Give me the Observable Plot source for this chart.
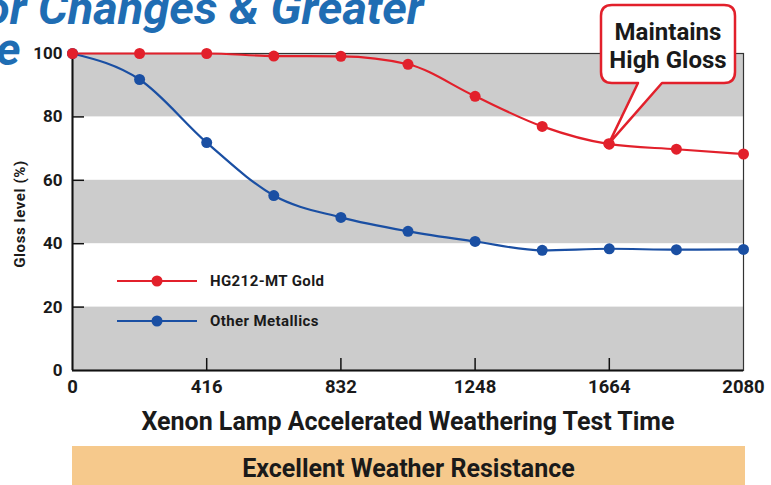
<!DOCTYPE html>
<html><head><meta charset="utf-8">
<script src="https://cdn.jsdelivr.net/npm/d3@7"></script>
<script src="https://cdn.jsdelivr.net/npm/@observablehq/plot@0.6"></script>
<style>
body{margin:0;background:#fff;}
#wrap{position:relative;width:771px;height:485px;overflow:hidden;font-family:Roboto,"DejaVu Sans Condensed",sans-serif;font-weight:bold;color:#1a1a1a;}
#chart{position:absolute;left:0;top:0;}
.title{position:absolute;color:#1f6db3;font-style:italic;font-weight:bold;font-size:47px;white-space:nowrap;line-height:0.7;z-index:2;}
#xlabel{position:absolute;left:0;width:816px;top:407px;text-align:center;font-size:25px;line-height:30px;}
#band{position:absolute;left:72px;top:446px;width:673px;height:45px;background:#f6c98c;}
#band div{position:absolute;left:0;right:0;top:8px;text-align:center;font-size:25px;line-height:30px;}
#ylabel{position:absolute;left:20px;top:214px;transform:translate(-50%,-50%) rotate(-90deg);font-size:15px;letter-spacing:0.6px;white-space:nowrap;}
.leg{position:absolute;left:116px;height:20px;display:flex;align-items:center;font-size:15px;letter-spacing:0.4px;}
.leg svg{margin-right:12px;}
</style></head><body><div id="wrap">
<div id="chart"></div>
<div class="title" id="t1" style="left:-16px;top:-8px;">or Changes &amp; Greater</div>
<div class="title" id="t2" style="left:-4px;top:33px;">e</div>
<div id="ylabel">Gloss level (%)</div>
<div id="legend"></div>
<div id="xlabel"></div>
<div id="band"><div id="bandText"></div></div>
</div>
<script>
const hours = [0, 208, 416, 624, 832, 1040, 1248, 1456, 1664, 1872, 2080];
const hgGold = [100, 100, 100, 99.2, 99.1, 96.6, 86.5, 77.0, 71.4, 69.8, 68.3];
const otherMetallics = [100, 91.8, 71.9, 55.2, 48.3, 43.9, 40.7, 37.9, 38.4, 38.1, 38.2];
const seriesNames = ["HG212-MT Gold", "Other Metallics"];
const seriesColors = ["#e2202b", "#1a4fa3"];
const xTicks = [0, 416, 832, 1248, 1664, 2080];
const yTicks = [0, 20, 40, 60, 80, 100];
const bands = [[0, 20], [40, 60], [80, 100]];
const xTitle = "Xenon Lamp Accelerated Weathering Test Time";
const bandTitle = "Excellent Weather Resistance";
const calloutLines = ["Maintains", "High Gloss"];
const calloutIndex = 8;

const rows = [];
hours.forEach((h, i) => rows.push({h, v: otherMetallics[i], s: seriesNames[1]}));
hours.forEach((h, i) => rows.push({h, v: hgGold[i], s: seriesNames[0]}));

const font = 'Roboto,"DejaVu Sans Condensed",sans-serif';
const innerX = xTicks.filter(t => t > 0 && t < 2080);
const innerY = yTicks.filter(t => t > 0 && t < 100);

const plot = Plot.plot({
  width: 771, height: 440,
  marginLeft: 72, marginRight: 28, marginTop: 53, marginBottom: 70,
  style: {fontFamily: font, fontWeight: "bold", background: "transparent", color: "#1a1a1a"},
  x: {domain: [0, 2080]},
  y: {domain: [0, 100]},
  color: {domain: seriesNames, range: seriesColors},
  marks: [
    Plot.rectY(bands, {y1: d => d[0], y2: d => d[1], fill: "#cccccc"}),
    Plot.frame({stroke: "#333", strokeWidth: 1.2}),
    Plot.ruleY(innerY, {x1: 0, x2: 2080 * 12 / 671, stroke: "#111", strokeWidth: 1.5}),
    Plot.ruleX(innerX, {y1: 0, y2: 100 * 12 / 317, stroke: "#111", strokeWidth: 1.5}),
    Plot.ruleX([0], {stroke: "#111", strokeWidth: 2}),
    Plot.ruleY([0], {stroke: "#111", strokeWidth: 2}),
    Plot.axisX(xTicks, {tickSize: 0, tickPadding: 9, fontSize: 18.5, tickFormat: d3.format("d"), label: null}),
    Plot.axisY(yTicks, {tickSize: 0, tickPadding: 10, fontSize: 17, tickFormat: d3.format("d"), label: null}),
    Plot.line(rows, {x: "h", y: "v", stroke: "s", z: "s", curve: "monotone-x", strokeWidth: 2.2}),
    Plot.dot(rows, {x: "h", y: "v", fill: "s", r: 5.5})
  ]
});
document.getElementById("chart").appendChild(plot);

// callout anchored to the data point via the plot's scales
const sx = plot.scale("x"), sy = plot.scale("y");
const px = sx.apply(hours[calloutIndex]), py = sy.apply(hgGold[calloutIndex]);
const x0 = 601, y0 = 5, x1 = 735, y1 = 83, r = 11, a = 638, b = 662;
const svg = d3.select(plot);
svg.append("path")
  .attr("d", `M${x0 + r},${y0}H${x1 - r}Q${x1},${y0} ${x1},${y0 + r}V${y1 - r}Q${x1},${y1} ${x1 - r},${y1}H${b}L${px},${py}L${a},${y1}H${x0 + r}Q${x0},${y1} ${x0},${y1 - r}V${y0 + r}Q${x0},${y0} ${x0 + r},${y0}Z`)
  .attr("fill", "#fff").attr("stroke", seriesColors[0]).attr("stroke-width", 2.5).attr("stroke-linejoin", "round");
svg.append("circle").attr("cx", px).attr("cy", py).attr("r", 5.5).attr("fill", seriesColors[0]);
calloutLines.forEach((t, i) => {
  svg.append("text").attr("x", (x0 + x1) / 2).attr("y", 40 + i * 28)
    .attr("text-anchor", "middle").attr("font-family", font).attr("font-weight", "bold")
    .attr("font-size", 24).attr("fill", "#1a1a1a").text(t);
});

// legend
const leg = document.getElementById("legend");
seriesNames.forEach((n, i) => {
  const d = document.createElement("div");
  d.className = "leg";
  d.style.top = (271 + i * 40) + "px";
  d.innerHTML = `<svg width="82" height="20"><line x1="1" x2="81" y1="10" y2="10" stroke="${seriesColors[i]}" stroke-width="2.2"/><circle cx="41" cy="10" r="5.5" fill="${seriesColors[i]}"/></svg><span>${n}</span>`;
  leg.appendChild(d);
});
document.getElementById("xlabel").textContent = xTitle;
document.getElementById("bandText").textContent = bandTitle;
</script>
</body></html>
